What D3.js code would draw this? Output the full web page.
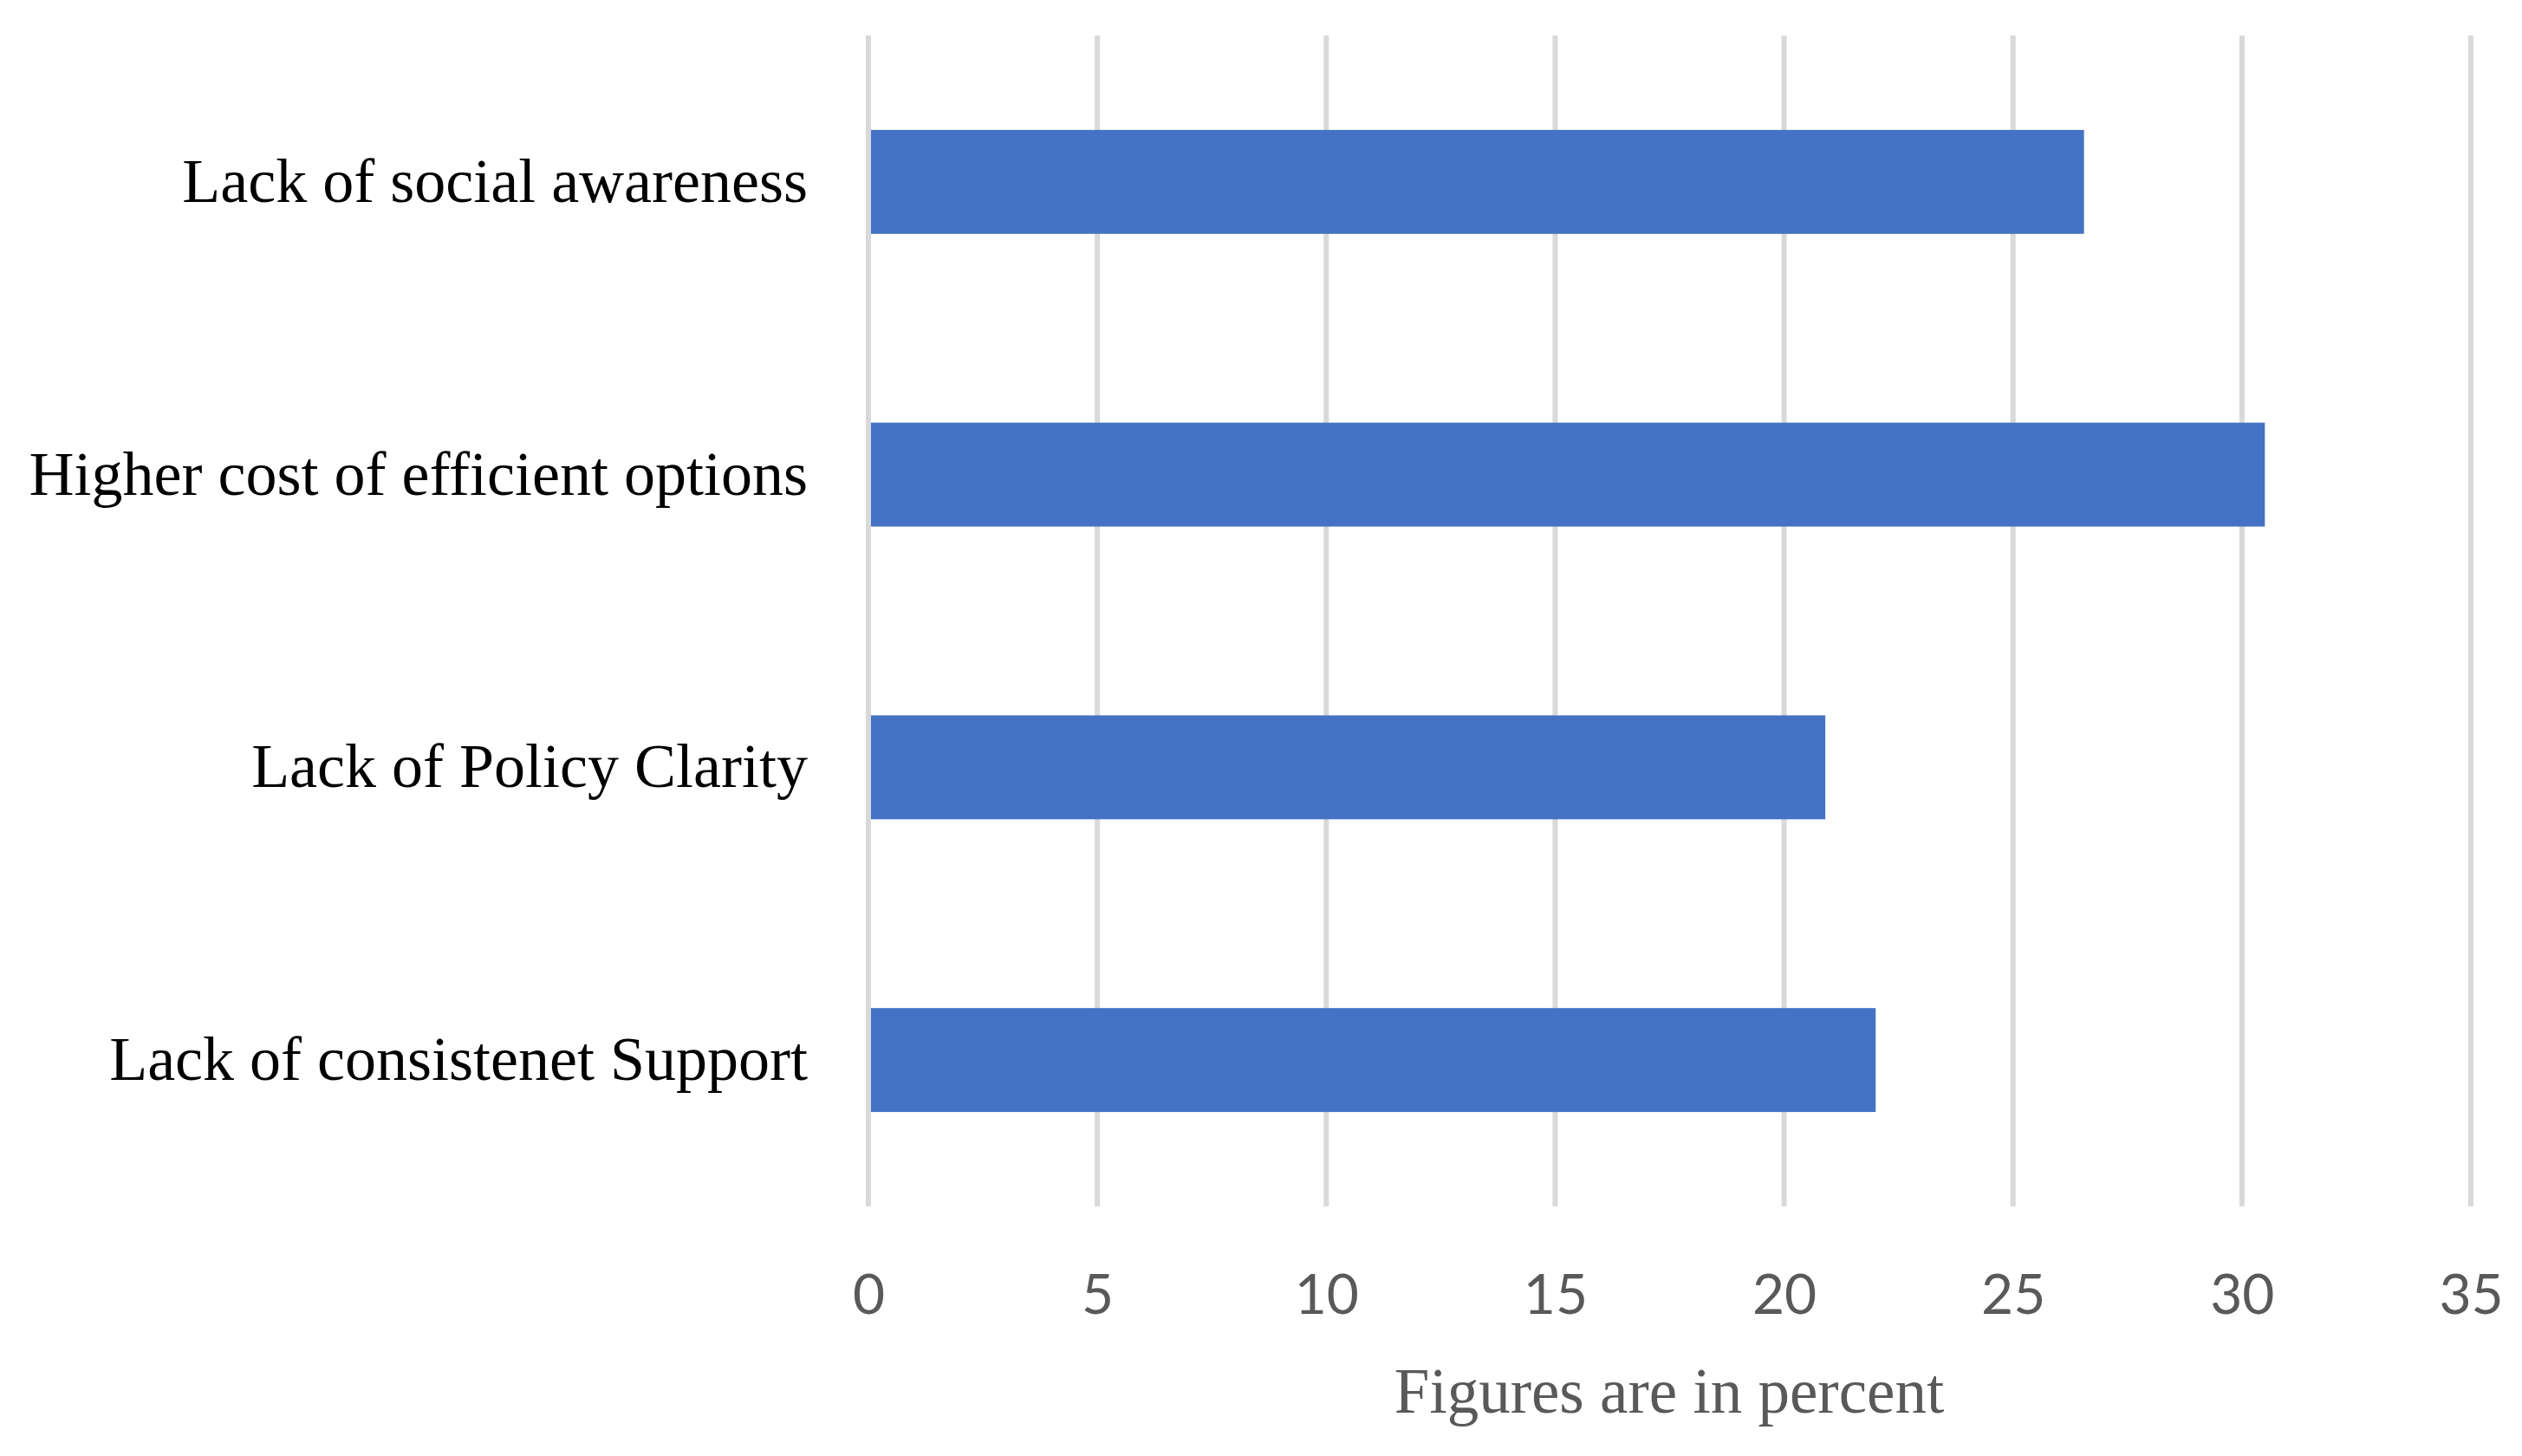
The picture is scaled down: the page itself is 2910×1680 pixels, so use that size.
<!DOCTYPE html>
<html>
<head>
<meta charset="utf-8">
<script src="https://cdn.jsdelivr.net/npm/d3@7"></script>
<style>
  html, body { margin: 0; padding: 0; background: #ffffff; }
  svg { display: block; }
</style>
</head>
<body>
<svg id="chart" width="2910" height="1680"></svg>
<script>
const categories = [
  "Lack of social awareness",
  "Higher cost of efficient options",
  "Lack of Policy Clarity",
  "Lack of consistenet Support"
];
const values = [26.55, 30.5, 20.9, 22.0];
const tickValues = [0, 5, 10, 15, 20, 25, 30, 35];
const axisTitle = "Figures are in percent";

const W = 2910, H = 1680;
const margin = { left: 1002, right: 59, top: 41, bottom: 288 };
const svg = d3.select("#chart");

const x = d3.scaleLinear().domain([0, 35]).range([margin.left, W - margin.right]);
const y = d3.scaleBand().domain(categories).range([margin.top, H - margin.bottom]).paddingInner(0.645).paddingOuter(0.3225);

// gridlines
svg.append("g").selectAll("line").data(tickValues).join("line")
  .attr("x1", d => x(d)).attr("x2", d => x(d))
  .attr("y1", margin.top).attr("y2", H - margin.bottom)
  .attr("stroke", "#d9d9d9").attr("stroke-width", 6);

// bars
svg.append("g").selectAll("rect").data(values).join("rect")
  .attr("x", x(0) + 3)
  .attr("y", (d, i) => y(categories[i]))
  .attr("width", d => x(d) - x(0) - 3)
  .attr("height", y.bandwidth())
  .attr("fill", "#4472c4");

// x axis tick labels
const xAxis = d3.axisBottom(x).tickValues(tickValues).tickSize(0).tickPadding(0).tickFormat(d3.format("d"));
const gx = svg.append("g").attr("transform", `translate(0, ${H - margin.bottom + 108})`).call(xAxis);
gx.select(".domain").remove();
gx.selectAll("text")
  .attr("font-family", "Lato, 'Open Sans', sans-serif")
  .attr("font-size", 64)
  .attr("fill", "#595959")
  .attr("dy", "0")
  .attr("dominant-baseline", "middle");

// y axis category labels
const yAxis = d3.axisLeft(y).tickSize(0).tickPadding(70);
const gy = svg.append("g").attr("transform", `translate(${margin.left}, 0)`).call(yAxis);
gy.select(".domain").remove();
gy.selectAll("text")
  .attr("font-family", "'Liberation Serif', 'Times New Roman', serif")
  .attr("font-size", 72)
  .attr("fill", "#000000")
  .attr("dy", "0.32em");

// axis title
svg.append("text")
  .attr("x", 1926)
  .attr("y", 1630)
  .attr("text-anchor", "middle")
  .attr("font-family", "'Liberation Serif', 'Times New Roman', serif")
  .attr("font-size", 73)
  .attr("fill", "#595959")
  .text(axisTitle);
</script>
</body>
</html>
